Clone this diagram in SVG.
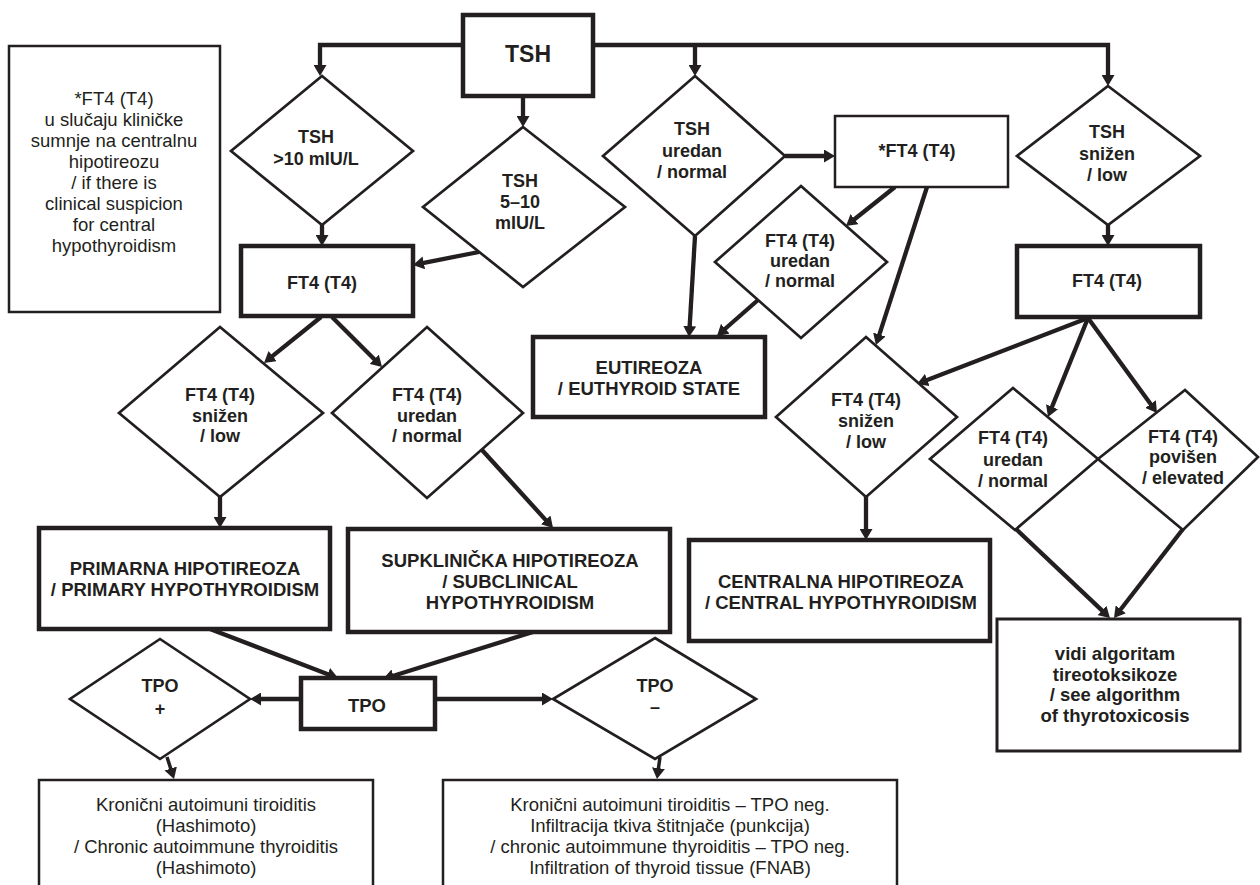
<svg xmlns="http://www.w3.org/2000/svg" width="1260" height="885" viewBox="0 0 1260 885">
<style>
  .bg{fill:#fff}
  .thick{fill:#fff;stroke:#231f20;stroke-width:4.5}
  .thin{fill:#fff;stroke:#231f20;stroke-width:2.5}
  .dia{fill:#fff;stroke:#231f20;stroke-width:2.7;stroke-linejoin:miter}
  .con{fill:none;stroke:#231f20;stroke-width:4.3;stroke-linejoin:miter}
  .con-s{fill:none;stroke:#231f20;stroke-width:3.5}
  text{font-family:"Liberation Sans",Arial,Helvetica,sans-serif;fill:#231f20;text-anchor:middle}
  .b{font-weight:bold;font-size:18.5px}
  .bd{font-weight:bold;font-size:18px}
  .r{font-size:18.5px}
  .big{font-weight:bold;font-size:23px}
</style>
<defs>
  <marker id="ah" markerUnits="userSpaceOnUse" markerWidth="11" markerHeight="13" refX="5" refY="6.5" orient="auto" viewBox="0 0 11 13">
    <path d="M0,0 L11,6.5 L0,13 z" fill="#231f20"/>
  </marker>
</defs>
<rect class="bg" x="0" y="0" width="1260" height="885"/>

<g id="connectors">
  <path class="con" d="M463,45 H320 V70" marker-end="url(#ah)"/>
  <path class="con" d="M593,45 H1108 V80" marker-end="url(#ah)"/>
  <path class="con" d="M695,45 V70" marker-end="url(#ah)"/>
  <path class="con" d="M523,97 V121" marker-end="url(#ah)"/>
  <path class="con" d="M322,218 V240" marker-end="url(#ah)"/>
  <path class="con" d="M479,252 L418.9,263.8" marker-end="url(#ah)"/>
  <path class="con" d="M785,156 L829,156" marker-end="url(#ah)"/>
  <path class="con" d="M895,187 L850.7,222.3" marker-end="url(#ah)"/>
  <path class="con" d="M927,187 L877.8,339.3" marker-end="url(#ah)"/>
  <path class="con" d="M695,236 L689.4,331" marker-end="url(#ah)"/>
  <path class="con" d="M758,300 L721.5,332" marker-end="url(#ah)"/>
  <path class="con" d="M866,490 V534" marker-end="url(#ah)"/>
  <path class="con" d="M1108,225 V240" marker-end="url(#ah)"/>
  <path class="con" d="M1088,318 L922.6,381.8" marker-end="url(#ah)"/>
  <path class="con" d="M1088,318 L1050.2,411.4" marker-end="url(#ah)"/>
  <path class="con" d="M1088,318 L1153.5,408.1" marker-end="url(#ah)"/>
  <path class="con" d="M1016,529 L1105.6,613.9" marker-end="url(#ah)"/>
  <path class="con" d="M1183,529 L1117.7,613.3" marker-end="url(#ah)"/>
  <path class="con" d="M321,317 L268.7,359.2" marker-end="url(#ah)"/>
  <path class="con" d="M332,317 L377.8,362.8" marker-end="url(#ah)"/>
  <path class="con" d="M220,490 V522" marker-end="url(#ah)"/>
  <path class="con" d="M482,450 L549,523.6" marker-end="url(#ah)"/>
  <path class="con" d="M210,629 L332.4,675.9" marker-end="url(#ah)"/>
  <path class="con" d="M533,632 L388.7,677.2" marker-end="url(#ah)"/>
  <path class="con" d="M301,699 L256,699" marker-end="url(#ah)"/>
  <path class="con" d="M435,699 L547,699" marker-end="url(#ah)"/>
  <path class="con-s" d="M167,757 L172.2,773.3" marker-end="url(#ah)"/>
  <path class="con-s" d="M660,757 L657.8,773.1" marker-end="url(#ah)"/>
</g>

<g id="note">
  <rect class="thin" x="9" y="46" width="211" height="266"/>
  <text class="r" x="114" y="105">*FT4 (T4)</text>
  <text class="r" x="114" y="126">u slučaju kliničke</text>
  <text class="r" x="114" y="147">sumnje na centralnu</text>
  <text class="r" x="114" y="168">hipotireozu</text>
  <text class="r" x="114" y="189">/ if there is</text>
  <text class="r" x="114" y="210">clinical suspicion</text>
  <text class="r" x="114" y="231">for central</text>
  <text class="r" x="114" y="252">hypothyroidism</text>
</g>

<g id="tsh">
  <rect class="thick" x="463" y="15" width="130" height="81"/>
  <text class="big" x="528" y="62">TSH</text>
</g>

<g id="d-tsh-high">
  <polygon class="dia" points="322,76 413,151 322,225 231,151"/>
  <text class="bd" x="316" y="143">TSH</text>
  <text class="bd" x="316" y="165">&gt;10 mIU/L</text>
</g>

<g id="d-tsh-5-10">
  <polygon class="dia" points="523,127 625,207 523,287 423,207"/>
  <text class="bd" x="520" y="187">TSH</text>
  <text class="bd" x="520" y="208">5–10</text>
  <text class="bd" x="520" y="229">mIU/L</text>
</g>

<g id="d-tsh-normal">
  <polygon class="dia" points="695,76 785,156 695,236 603,156"/>
  <text class="bd" x="692" y="135">TSH</text>
  <text class="bd" x="692" y="157">uredan</text>
  <text class="bd" x="692" y="178">/ normal</text>
</g>

<g id="d-tsh-low">
  <polygon class="dia" points="1108,86 1200,156 1108,225 1017,156"/>
  <text class="bd" x="1107" y="138">TSH</text>
  <text class="bd" x="1107" y="160">snižen</text>
  <text class="bd" x="1107" y="181">/ low</text>
</g>

<g id="ft4-left">
  <rect class="thick" x="241" y="246" width="172" height="70"/>
  <text class="bd" x="322" y="289">FT4 (T4)</text>
</g>

<g id="ft4-star">
  <rect class="thin" x="835" y="116" width="173" height="71"/>
  <text class="bd" x="917" y="157">*FT4 (T4)</text>
</g>

<g id="ft4-right">
  <rect class="thick" x="1017" y="246" width="183" height="71"/>
  <text class="bd" x="1107" y="287">FT4 (T4)</text>
</g>

<g id="d-ft4-normal-mid">
  <polygon class="dia" points="801,186 887,262 801,338 715,262"/>
  <text class="bd" x="800" y="247">FT4 (T4)</text>
  <text class="bd" x="800" y="267">uredan</text>
  <text class="bd" x="800" y="287">/ normal</text>
</g>

<g id="eutireoza">
  <rect class="thick" x="533" y="337" width="232" height="80"/>
  <text class="b" x="649" y="374">EUTIREOZA</text>
  <text class="b" x="649" y="395">/ EUTHYROID STATE</text>
</g>

<g id="d-ft4-low-left">
  <polygon class="dia" points="220,327 323,413 220,497 119,413"/>
  <text class="bd" x="220" y="401">FT4 (T4)</text>
  <text class="bd" x="220" y="422">snižen</text>
  <text class="bd" x="220" y="442">/ low</text>
</g>

<g id="d-ft4-normal-left">
  <polygon class="dia" points="427,327 523,413 427,498 332,413"/>
  <text class="bd" x="427" y="401">FT4 (T4)</text>
  <text class="bd" x="427" y="422">uredan</text>
  <text class="bd" x="427" y="442">/ normal</text>
</g>

<g id="d-ft4-low-central">
  <polygon class="dia" points="866,337 957,417 866,497 776,417"/>
  <text class="bd" x="866" y="406">FT4 (T4)</text>
  <text class="bd" x="866" y="427">snižen</text>
  <text class="bd" x="866" y="448">/ low</text>
</g>

<g id="d-ft4-normal-right">
  <polygon class="dia" points="1013,388 1098,459 1015,530 930,459"/>
  <text class="bd" x="1013" y="444">FT4 (T4)</text>
  <text class="bd" x="1013" y="466">uredan</text>
  <text class="bd" x="1013" y="487">/ normal</text>
</g>

<g id="d-ft4-high">
  <polygon class="dia" points="1185,390 1258,457 1183,530 1098,459"/>
  <text class="bd" x="1183" y="443">FT4 (T4)</text>
  <text class="bd" x="1183" y="463">povišen</text>
  <text class="bd" x="1183" y="484">/ elevated</text>
</g>

<g id="primarna">
  <rect class="thick" x="39" y="528" width="291" height="101"/>
  <text class="b" x="185" y="575">PRIMARNA HIPOTIREOZA</text>
  <text class="b" x="185" y="596">/ PRIMARY HYPOTHYROIDISM</text>
</g>

<g id="supklinicka">
  <rect class="thick" x="348" y="529" width="322" height="103"/>
  <text class="b" x="510" y="567">SUPKLINIČKA HIPOTIREOZA</text>
  <text class="b" x="510" y="588">/ SUBCLINICAL</text>
  <text class="b" x="510" y="609">HYPOTHYROIDISM</text>
</g>

<g id="centralna">
  <rect class="thick" x="689" y="540" width="301" height="101"/>
  <text class="b" x="841" y="588">CENTRALNA HIPOTIREOZA</text>
  <text class="b" x="841" y="609">/ CENTRAL HYPOTHYROIDISM</text>
</g>

<g id="vidi">
  <rect class="thin" x="997" y="619" width="243" height="132" style="stroke-width:3"/>
  <text class="b" x="1115" y="660">vidi algoritam</text>
  <text class="b" x="1115" y="681">tireotoksikoze</text>
  <text class="b" x="1115" y="701">/ see algorithm</text>
  <text class="b" x="1115" y="722">of thyrotoxicosis</text>
</g>

<g id="tpo">
  <rect class="thick" x="301" y="678" width="134" height="51"/>
  <text class="b" x="367" y="712">TPO</text>
</g>

<g id="d-tpo-pos">
  <polygon class="dia" points="160,639 250,699 160,759 70,699"/>
  <text class="bd" x="160" y="692">TPO</text>
  <text class="bd" x="160" y="715">+</text>
</g>

<g id="d-tpo-neg">
  <polygon class="dia" points="655,638 756,699 655,759 553,699"/>
  <text class="bd" x="655" y="692">TPO</text>
  <text class="bd" x="655" y="713">–</text>
</g>

<g id="hashimoto">
  <rect class="thin" x="39" y="780" width="334" height="130"/>
  <text class="r" x="206" y="811">Kronični autoimuni tiroiditis</text>
  <text class="r" x="206" y="832">(Hashimoto)</text>
  <text class="r" x="206" y="853">/ Chronic autoimmune thyroiditis</text>
  <text class="r" x="206" y="874">(Hashimoto)</text>
</g>

<g id="tpo-neg-result">
  <rect class="thin" x="443" y="780" width="454" height="130"/>
  <text class="r" x="670" y="811">Kronični autoimuni tiroiditis – TPO neg.</text>
  <text class="r" x="670" y="832">Infiltracija tkiva štitnjače (punkcija)</text>
  <text class="r" x="670" y="853">/ chronic autoimmune thyroiditis – TPO neg.</text>
  <text class="r" x="670" y="874">Infiltration of thyroid tissue (FNAB)</text>
</g>
</svg>
